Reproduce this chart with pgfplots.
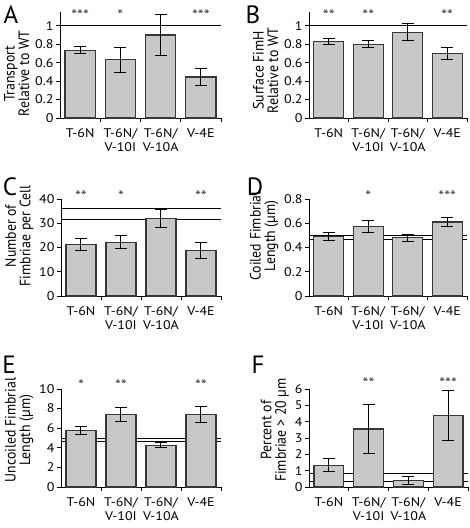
\documentclass[border=0pt]{standalone}
\usepackage{fontspec}
\setmainfont{PT Sans}
\newfontfamily\tickfont[FakeStretch=1.12]{PT Sans}
\newfontfamily\labfont[FakeStretch=0.92]{PT Sans}
\usepackage{pgfplots}
\pgfplotsset{compat=1.18}
\definecolor{barfill}{RGB}{200,200,200}
\definecolor{bardraw}{RGB}{55,55,55}
\newcommand{\fs}{\tickfont\fontsize{12.5}{14}\selectfont}
\newcommand{\fl}{\labfont\fontsize{15}{14.5}\selectfont}
\newcommand{\fst}{\tickfont\fontsize{15}{15}\selectfont}
\pgfplotsset{
 panel/.style={
  scale only axis,
  axis x line*=bottom, axis y line*=left,
  axis line style={-, line width=0.9pt},
  xmin=-0.5, xmax=3.5, ymin=0, clip=false,
  xtick={0,1,2,3},
  xticklabels={T-6N,{T-6N/\\V-10I},{T-6N/\\V-10A},V-4E},
  minor xtick={0.5,1.5,2.5,3.5},
  every major x tick/.append style={draw=none},
  tick align=outside, major tick length=4pt, minor tick length=4pt,
  tick style={black, line width=0.9pt},
  xticklabel style={align=center, font=\fs, yshift=-3pt},
  yticklabel style={font=\fs, xshift=1pt},
  ylabel style={align=center, font=\fl, yshift=-1pt},
  /pgf/number format/assume math mode=true,
 },
 bars/.style={ybar, bar width=0.75, fill=barfill, draw=bardraw, line width=1.1pt,
  error bars/.cd, y dir=both, y explicit,
  error bar style={black, line width=1pt},
  error mark options={rotate=90, black, mark size=6pt, line width=1pt}},
 ref/.style={black, line width=0.9pt, mark=none},
 stars/.style={only marks, mark=none, nodes near coords, point meta=explicit symbolic,
  every node near coord/.append style={anchor=center, font=\fst, text=black!75}},
}
\begin{document}
\begin{tikzpicture}
\path[use as bounding box] (0pt,0pt) rectangle (470pt,528pt);
% A
\begin{axis}[panel, at={(60pt,410pt)}, anchor=south west, width=161pt, height=106pt,
  ymax=1.15, ytick={0,0.2,0.4,0.6,0.8,1}, ylabel={Transport\\Relative to WT},
  ylabel style={at={(ticklabel cs:0.42)}}]
\addplot[ref] coordinates {(-0.5,1) (3.5,1)};
\addplot[bars] table[x=x,y=y,y error=e,row sep=\\] {x y e\\ 0 0.735 0.04\\ 1 0.63 0.135\\ 2 0.90 0.225\\ 3 0.445 0.095\\};
\addplot[stars] table[x=x,y=y,meta=s,row sep=\\] {x y s\\ 0 1.12 ***\\ 1 1.12 *\\ 3 1.12 ***\\};
\end{axis}
% B
\begin{axis}[panel, at={(309pt,410pt)}, anchor=south west, width=158pt, height=106pt,
  ymax=1.15, ytick={0,0.2,0.4,0.6,0.8,1}, ylabel={Surface FimH\\Relative to WT},
  ylabel style={at={(ticklabel cs:0.45)}}]
\addplot[ref] coordinates {(-0.5,1) (3.5,1)};
\addplot[bars] table[x=x,y=y,y error=e,row sep=\\] {x y e\\ 0 0.83 0.035\\ 1 0.80 0.038\\ 2 0.93 0.092\\ 3 0.70 0.063\\};
\addplot[stars] table[x=x,y=y,meta=s,row sep=\\] {x y s\\ 0 1.12 **\\ 1 1.12 **\\ 3 1.12 **\\};
\end{axis}
% C
\begin{axis}[panel, at={(61pt,232pt)}, anchor=south west, width=160pt, height=97pt,
  ymax=40, ytick={0,10,20,30,40}, ylabel={Number of\\Fimbriae per Cell},
  ylabel style={at={(ticklabel cs:0.62)}}]
\addplot[ref] coordinates {(-0.5,36.1) (3.5,36.1)};
\addplot[ref] coordinates {(-0.5,31.7) (3.5,31.7)};
\addplot[bars] table[x=x,y=y,y error=e,row sep=\\] {x y e\\ 0 21.2 2.35\\ 1 22.1 2.65\\ 2 32.0 3.75\\ 3 18.8 3.2\\};
\addplot[stars] table[x=x,y=y,meta=s,row sep=\\] {x y s\\ 0 41.0 **\\ 1 41.0 *\\ 3 41.0 **\\};
\end{axis}
% D
\begin{axis}[panel, at={(309pt,232pt)}, anchor=south west, width=158pt, height=97pt,
  ymax=0.8, ytick={0,0.2,0.4,0.6,0.8}, ylabel={Coiled Fimbrial\\Length (µm)},
  ylabel style={at={(ticklabel cs:0.62)}}]
\addplot[ref] coordinates {(-0.5,0.497) (3.5,0.497)};
\addplot[ref] coordinates {(-0.5,0.469) (3.5,0.469)};
\addplot[bars] table[x=x,y=y,y error=e,row sep=\\] {x y e\\ 0 0.49 0.03\\ 1 0.574 0.05\\ 2 0.48 0.028\\ 3 0.61 0.035\\};
\addplot[stars] table[x=x,y=y,meta=s,row sep=\\] {x y s\\ 1 0.82 *\\ 3 0.82 ***\\};
\end{axis}
% E
\begin{axis}[panel, at={(61pt,41pt)}, anchor=south west, width=160pt, height=98pt,
  ymax=10, ytick={0,2,4,6,8,10}, ylabel={Uncoiled Fimbrial\\Length (µm)},
  ylabel style={at={(ticklabel cs:0.58)}}]
\addplot[ref] coordinates {(-0.5,5.0) (3.5,5.0)};
\addplot[ref] coordinates {(-0.5,4.6) (3.5,4.6)};
\addplot[bars] table[x=x,y=y,y error=e,row sep=\\] {x y e\\ 0 5.75 0.41\\ 1 7.41 0.73\\ 2 4.25 0.27\\ 3 7.41 0.81\\};
\addplot[stars] table[x=x,y=y,meta=s,row sep=\\] {x y s\\ 0 10.4 *\\ 1 10.4 **\\ 3 10.4 **\\};
\end{axis}
% F
\begin{axis}[panel, at={(309pt,41pt)}, anchor=south west, width=159pt, height=98pt,
  ymax=6, ytick={0,1,2,3,4,5,6}, ylabel={Percent of\\Fimbriae > 20 µm},
  ylabel style={at={(ticklabel cs:0.58)}}]
\addplot[ref] coordinates {(-0.5,0.82) (3.5,0.82)};
\addplot[ref] coordinates {(-0.5,0.31) (3.5,0.31)};
\addplot[bars] table[x=x,y=y,y error=e,row sep=\\] {x y e\\ 0 1.33 0.4\\ 1 3.55 1.49\\ 2 0.41 0.26\\ 3 4.39 1.52\\};
\addplot[stars] table[x=x,y=y,meta=s,row sep=\\] {x y s\\ 1 6.33 **\\ 3 6.33 ***\\};
\end{axis}
% panel letters
\node[font=\fontsize{25}{25}\selectfont] at (11pt,513pt) {A};
\node[font=\fontsize{25}{25}\selectfont] at (253pt,513pt) {B};
\node[font=\fontsize{25}{25}\selectfont] at (10pt,341pt) {C};
\node[font=\fontsize{25}{25}\selectfont] at (255pt,341pt) {D};
\node[font=\fontsize{25}{25}\selectfont] at (9pt,163pt) {E};
\node[font=\fontsize{25}{25}\selectfont] at (258pt,163pt) {F};
\end{tikzpicture}
\end{document}
